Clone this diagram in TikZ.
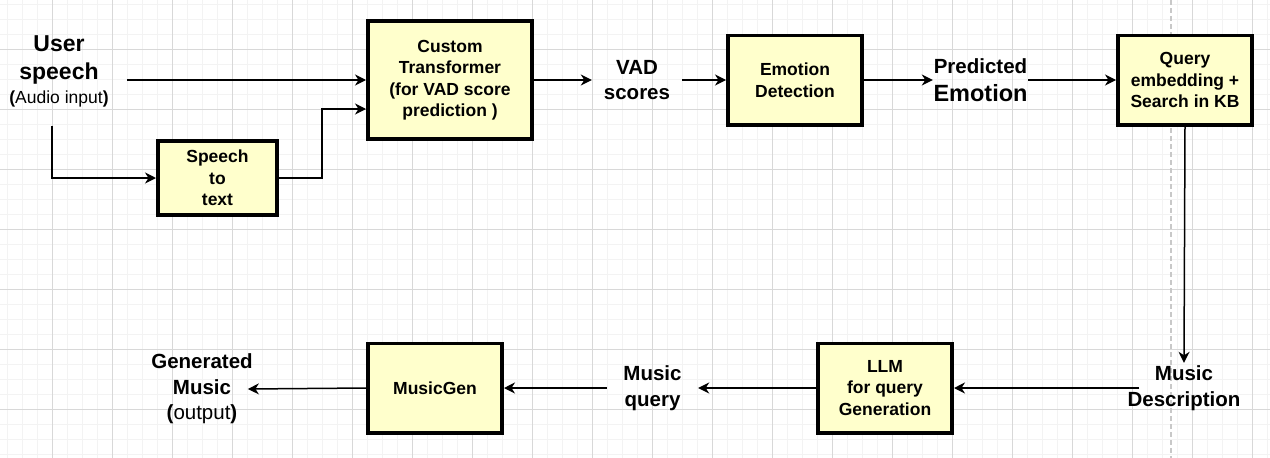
\documentclass[tikz,border=0pt]{standalone}
\usepackage{fontspec}
\setmainfont{Liberation Sans}
\usetikzlibrary{arrows.meta}
\definecolor{boxfill}{RGB}{255,255,204}
\definecolor{gridmaj}{RGB}{216,216,216}
\definecolor{gridmin}{RGB}{243,243,243}
\definecolor{pagebrk}{RGB}{200,200,200}

\begin{document}
\begin{tikzpicture}[x=1pt, y=-1pt,
    box/.style={draw=black, line width=3.8pt, fill=boxfill, align=center, inner sep=0pt,
      minimum width=134.2pt, minimum height=89.2pt, font=\fontsize{17.5}{21.5}\selectfont\bfseries},
    lbl/.style={align=center, inner sep=0pt, font=\fontsize{20.5}{25.5}\selectfont\bfseries},
    arr/.style={line width=1.5pt, -{Stealth[length=11pt, width=11pt, inset=3.5pt]}},
    minorline/.style={gridmin, line width=1pt},
    majorline/.style={gridmaj, line width=1pt}]
  \useasboundingbox (0,0) rectangle (1270,458);

  % grid
  \fill[white] (0,0) rectangle (1270,458);
  \foreach \x in {7,22,...,1267} \draw[minorline] (\x,0) -- (\x,458);
  \foreach \y in {4,19,...,454} \draw[minorline] (0,\y) -- (1270,\y);
  \foreach \x in {52,112,...,1252} \draw[majorline] (\x,0) -- (\x,458);
  \foreach \y in {49,109,...,409} \draw[majorline] (0,\y) -- (1270,\y);
  \draw[pagebrk, line width=1.5pt, dash pattern=on 5pt off 3pt] (1171,0) -- (1171,458);

  % boxes
  \node[box, minimum width=164.2pt, minimum height=118.2pt] (trans) at (450,80) {Custom\\ Transformer\\ (for VAD score\\ prediction )};
  \node[box, minimum width=119.2pt, minimum height=74.2pt] (stt) at (217.5,178) {Speech\\ to\\ text};
  \node[box] (emo) at (795,80) {Emotion\\ Detection};
  \node[box] (query) at (1185,80) {Query\\ embedding +\\ Search in KB};
  \node[box] (llm) at (885,388) {LLM\\ for query\\ Generation};
  \node[box] (mgen) at (435,388) {MusicGen};

  % labels
  \node[lbl, font=\fontsize{23}{28}\selectfont\bfseries, minimum width=136pt, minimum height=108pt] (user) at (59,71.5)
    {User\\ speech\\[-4pt] {\fontsize{17.5}{21}\selectfont\textbf{(}\mdseries Audio input\textbf{)}}};
  \node[lbl, minimum width=90pt] (vad) at (637,80) {VAD\\ scores};
  \node[lbl, font=\fontsize{20.5}{28.3}\selectfont\bfseries, minimum width=95pt] (pred) at (980.5,80)
    {Predicted\\ {\fontsize{23.5}{28}\selectfont Emotion}};
  \node[lbl, minimum height=50pt] (desc) at (1184,388) {Music\\ Description};
  \node[lbl, minimum width=91pt] (mq) at (652.5,388) {Music\\ query};
  \node[lbl] (gen) at (202,389)
    {Generated\\ Music\\ {\fontsize{20.5}{25}\selectfont\textbf{(}\mdseries output\textbf{)}}};

  % connectors
  \draw[arr] (user.east |- trans.west) -- (trans.west);
  \draw[arr] ([xshift=-7pt]user.south) |- (stt.west);
  \draw[arr] (stt.east) -- ++(43,0) |- ([yshift=-29pt]trans.west);
  \draw[arr] (trans.east) -- (vad.west);
  \draw[arr] (vad.east) -- (emo.west);
  \draw[arr] (emo.east) -- (pred.west);
  \draw[arr] (pred.east) -- (query.west);
  \draw[arr] (query.south) -- (desc.north);
  \draw[arr] ([xshift=12pt]desc.west) -- (llm.east);
  \draw[arr] (llm.west) -- (mq.east);
  \draw[arr] (mq.west) -- (mgen.east);
  \draw[arr] (mgen.west) -- ([xshift=-5pt]gen.east);
\end{tikzpicture}
\end{document}
